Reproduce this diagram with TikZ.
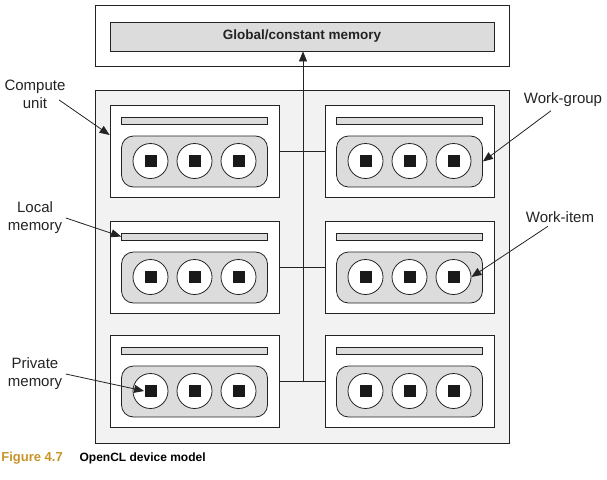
\documentclass[tikz,border=0pt]{standalone}
\usepackage{fontspec}
\setmainfont{Liberation Sans}
\usepackage{xcolor}
\usetikzlibrary{calc,positioning,arrows.meta,shapes}
\definecolor{devgrey}{RGB}{242,242,242}
\definecolor{bargrey}{RGB}{220,220,220}
\definecolor{linegrey}{RGB}{35,35,35}
\definecolor{figgold}{RGB}{200,148,40}

\begin{document}
\begin{tikzpicture}[x=1pt, y=-1pt, line width=0.8pt, color=linegrey,
  box/.style={draw, rectangle, inner sep=0pt},
  bar/.style={box, fill=bargrey, minimum width=146pt, minimum height=7pt},
  grp/.style={draw, fill=bargrey, rounded corners=12pt, minimum width=146pt, minimum height=51pt},
  item/.style={draw, circle, fill=white, minimum size=35pt, inner sep=0pt},
  priv/.style={fill=black!90, minimum size=12pt, inner sep=0pt},
  lbl/.style={align=center, font=\fontsize{15}{18}\selectfont},
  pt/.style={-{Triangle[length=10pt,width=8pt]}}]
\useasboundingbox (0,0) rectangle (607,479);

\node[box, minimum width=414pt, minimum height=61pt] (top) at (302,35.5) {};
\node[bar, minimum width=384pt, minimum height=29pt, font=\bfseries\fontsize{13.5}{15}\selectfont] (glob) at (302,36.5) {Global/constant memory};
\node[box, fill=devgrey, minimum width=414pt, minimum height=353pt] (dev) at (302,266.5) {};

% compute units
\foreach \row/\cy in {1/151,2/267,3/381}{
  \foreach \col/\cx in {1/194.5,2/409.5}{
    \node[box, fill=white, minimum width=169pt, minimum height=92pt] (u\row\col) at (\cx,\cy) {};
    \node[bar] (b\row\col) at (\cx,\cy-30.5) {};
    \node[grp] (w\row\col) at (\cx,\cy+10.5) {};
    \foreach \k/\dx in {a/-44,b/0,c/44}{
      \node[item] (c\row\col\k) at (\cx+\dx,\cy+10) {};
      \node[priv] (s\row\col\k) at (c\row\col\k) {};
    }
  }
}

\coordinate (bus) at (303,381);
\draw (u11.east) -- (u12.west);
\draw (u21.east) -- (u22.west);
\draw (u31.east) -- (u32.west);
\draw[pt] (bus) -- (bus |- glob.south);

\node[lbl] (cu) at (35,94) {Compute\\unit};
\node[lbl] (lm) at (35,218) {Local\\memory};
\node[lbl] (pm) at (35,374) {Private\\memory};
\node[lbl] (wg) at (563,100) {Work-group};
\node[lbl] (wi) at (560,217) {Work-item};

\draw[pt] ([xshift=-10pt,yshift=-6pt]cu.east) -- ($(u11.west)+(0,-16)$);
\draw[pt] (lm.east) -- (b21.west);
\draw[pt] (pm.east) -- (s31a.west);
\draw[pt] ([xshift=-12pt]wg.south) -- (w12.east);
\draw[pt] ([xshift=-12pt]wi.south) -- (c22c.east);

\node[anchor=west, inner sep=0pt, text=figgold, font=\bfseries\fontsize{13}{14}\selectfont] (fig) at (1,458) {Figure 4.7};
\node[right=16pt of fig, inner sep=0pt, text=black, font=\bfseries\fontsize{12}{14}\selectfont] (cap) {OpenCL device model};
\end{tikzpicture}
\end{document}
